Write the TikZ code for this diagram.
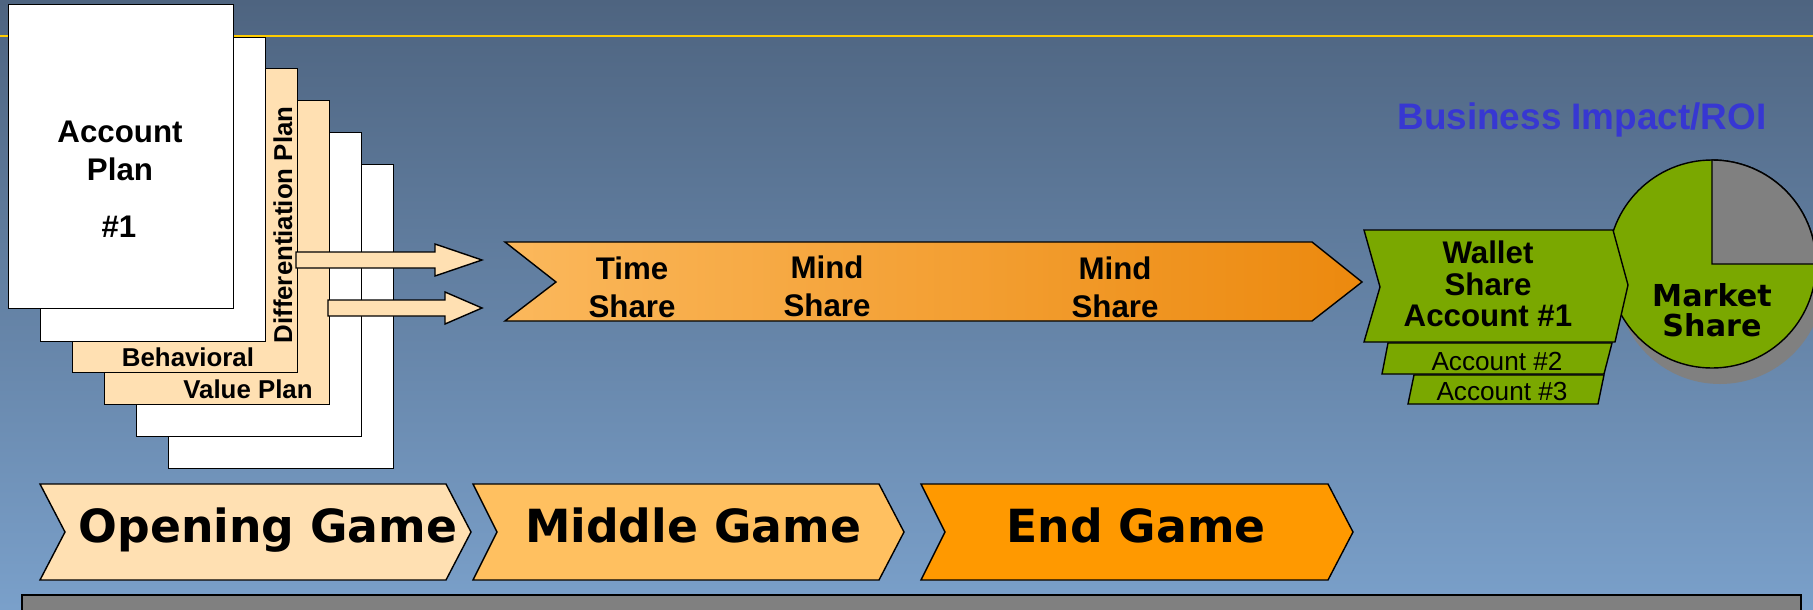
\documentclass[tikz,border=0pt]{standalone}
\usepackage{fontspec}
\setmainfont{Liberation Sans}
\newfontfamily\heavyfont{DejaVu Sans}
\usetikzlibrary{positioning}
\definecolor{bgtop}{RGB}{78,100,128}
\definecolor{bgbot}{RGB}{122,160,202}
\definecolor{gold}{RGB}{255,204,0}
\definecolor{peach}{RGB}{255,224,178}
\definecolor{midgame}{RGB}{255,192,96}
\definecolor{endgame}{RGB}{255,153,0}
\definecolor{orlight}{RGB}{251,184,92}
\definecolor{ordark}{RGB}{236,137,14}
\definecolor{leaf}{RGB}{122,168,0}
\definecolor{pielgray}{RGB}{128,128,128}
\definecolor{roiblue}{RGB}{55,55,210}

\begin{document}
\begin{tikzpicture}[x=0.02cm,y=-0.02cm,line join=miter,
  sheet/.style={draw,line width=0.8pt,fill=white,anchor=north west,minimum width=4.5cm,minimum height=6.08cm,inner sep=0pt},
  lbl/.style={anchor=base,inner sep=0pt,font=\bfseries\fontsize{17.8}{21}\selectfont},
  sublbl/.style={anchor=base,inner sep=0pt,font=\bfseries\fontsize{14.7}{17}\selectfont},
  acclbl/.style={anchor=base,inner sep=0pt,font=\fontsize{14.9}{17}\selectfont},
  gamelbl/.style={anchor=base,inner sep=0pt,font=\heavyfont\bfseries\fontsize{26}{30}\selectfont},
  blockarrow/.style={draw,line width=0.8pt,fill=peach},
  leafshape/.style={draw,line width=0.8pt,fill=leaf},
  gamebox/.style={draw,line width=0.8pt}]
\shade[top color=bgtop,bottom color=bgbot] (0,0) rectangle (1813,609);
\useasboundingbox (0,0) rectangle (1813,609);
\draw[gold,line width=1.3pt] (0,36) -- (1813,36);

% stack of plans
\node[sheet] (p6) at (168,164) {};
\node[sheet] (p5) at (136,132) {};
\node[sheet,fill=peach] (p4) at (104,100) {};
\node[sheet,fill=peach] (p3) at (72,68) {};
\node[sheet] (p2) at (40,37) {};
\node[sheet] (p1) at (8,4) {};
\node[lbl] (acc) at (120,142) {Account};
\node[lbl] (pln) at (120,180) {Plan};
\node[lbl] (num) at (119,237) {\#1};
\node[sublbl,rotate=90] (diff) at (292,225) {Differentiation Plan};
\node[sublbl] (beh) at (188,366) {Behavioral};
\node[sublbl] (val) at (248,398) {Value Plan};

% block arrows out of the stack
\draw[blockarrow] (296,252) -- (435,252) -- (435,244) -- (482,260) -- (435,276) -- (435,268) -- (296,268) -- cycle;
\draw[blockarrow] (328,300) -- (445,300) -- (445,292) -- (482,308) -- (445,324) -- (445,316) -- (328,316) -- cycle;

% share arrow
\shadedraw[line width=0.8pt,left color=orlight,right color=ordark] (505,242) -- (1312,242) -- (1362,282) -- (1312,321) -- (505,321) -- (556,282) -- cycle;
\node[lbl] (time1) at (632,279) {Time};
\node[lbl] (time2) at (632,317) {Share};
\node[lbl] (mind1) at (827,278) {Mind};
\node[lbl] (mind2) at (827,316) {Share};
\node[lbl] (mindb1) at (1115,279) {Mind};
\node[lbl] (mindb2) at (1115,317) {Share};

% business impact
\node[anchor=base,inner sep=0pt,text=roiblue,font=\bfseries\fontsize{21}{25}\selectfont] (roi) at (1582,129) {Business Impact/ROI};
\fill[pielgray] (1720,280) circle[radius=104];
\draw[leafshape] (1712,264) circle[radius=104];
\draw[line width=0.8pt,fill=pielgray] (1712,264) -- ++(0,-104) arc[start angle=-90,end angle=0,radius=104] -- cycle;
\node[anchor=base,inner sep=0pt,font=\heavyfont\bfseries\fontsize{17.2}{20}\selectfont] (mkt1) at (1712,306) {Market};
\node[anchor=base,inner sep=0pt,font=\heavyfont\bfseries\fontsize{17.2}{20}\selectfont] (mkt2) at (1712,336) {Share};

\draw[leafshape] (1364,230) -- (1613,230) -- (1628,285) -- (1615,342) -- (1364,342) -- (1380,287) -- cycle;
\draw[leafshape] (1388,343) -- (1612,343) -- (1604,374) -- (1382,374) -- cycle;
\draw[leafshape] (1414,375) -- (1604,375) -- (1598,404) -- (1408,404) -- cycle;
\node[lbl] (wal1) at (1488,263) {Wallet};
\node[lbl] (wal2) at (1488,295) {Share};
\node[lbl] (wal3) at (1488,326) {Account \#1};
\node[acclbl] (acc2) at (1497,370) {Account \#2};
\node[acclbl] (acc3) at (1502,400) {Account \#3};

% game phases
\draw[gamebox,fill=peach] (40,484) -- (446,484) -- (471,532) -- (446,580) -- (40,580) -- (65,532) -- cycle;
\draw[gamebox,fill=midgame] (473,484) -- (879,484) -- (904,532) -- (879,580) -- (473,580) -- (497,532) -- cycle;
\draw[gamebox,fill=endgame] (921,484) -- (1328,484) -- (1353,532) -- (1328,580) -- (921,580) -- (945,532) -- cycle;
\node[gamelbl] (open) at (268,542) {Opening Game};
\node[gamelbl] (middle) at (693,542) {Middle Game};
\node[gamelbl] (end) at (1136,542) {End Game};

\draw[line width=1.2pt,fill=pielgray] (22,595) rectangle (1801,640);
\end{tikzpicture}
\end{document}
